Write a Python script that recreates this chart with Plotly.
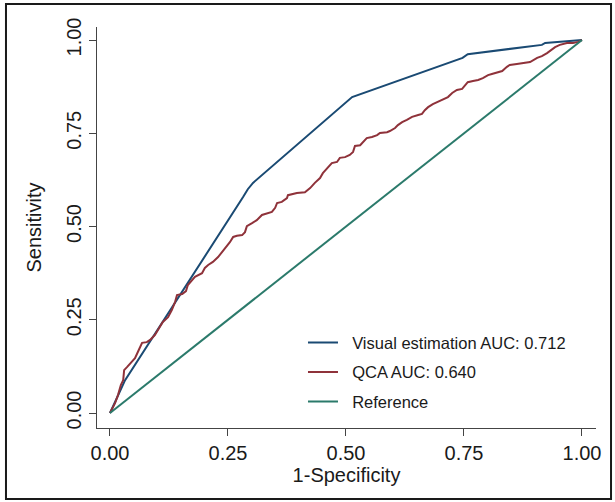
import plotly.graph_objects as go

# ROC curve: visual estimation (1-specificity, sensitivity)
fpr_visual = [0.0, 0.032, 0.282, 0.292, 0.303, 0.513, 0.747, 0.758, 0.915, 0.922, 1.0]
tpr_visual = [0.0, 0.088, 0.579, 0.600, 0.617, 0.847, 0.952, 0.962, 0.987, 0.992, 1.0]

# ROC curve: QCA
fpr_qca = [0.0, 0.011, 0.017, 0.023, 0.028, 0.030, 0.036, 0.047, 0.053, 0.061,
           0.068, 0.078, 0.085, 0.095, 0.102, 0.112, 0.123, 0.131, 0.138, 0.142,
           0.153, 0.161, 0.165, 0.172, 0.180, 0.195, 0.201, 0.208, 0.218, 0.229,
           0.237, 0.244, 0.254, 0.261, 0.269, 0.280, 0.286, 0.290, 0.301, 0.311,
           0.322, 0.333, 0.343, 0.350, 0.354, 0.364, 0.375, 0.377, 0.396, 0.413,
           0.424, 0.434, 0.445, 0.451, 0.460, 0.470, 0.481, 0.487, 0.498, 0.508,
           0.515, 0.519, 0.530, 0.536, 0.544, 0.555, 0.566, 0.572, 0.587, 0.593,
           0.604, 0.610, 0.619, 0.629, 0.640, 0.653, 0.661, 0.667, 0.674, 0.684,
           0.695, 0.706, 0.716, 0.725, 0.735, 0.746, 0.752, 0.758, 0.769, 0.780,
           0.790, 0.801, 0.809, 0.820, 0.831, 0.841, 0.847, 0.862, 0.875, 0.890,
           0.905, 0.915, 0.926, 0.932, 0.943, 0.953, 0.968, 0.981, 0.992, 1.0]
tpr_qca = [0.0, 0.027, 0.048, 0.075, 0.088, 0.115, 0.123, 0.137, 0.147, 0.169,
           0.188, 0.190, 0.196, 0.209, 0.223, 0.244, 0.257, 0.276, 0.298, 0.316,
           0.319, 0.327, 0.343, 0.354, 0.365, 0.375, 0.389, 0.397, 0.405, 0.418,
           0.432, 0.442, 0.458, 0.472, 0.475, 0.477, 0.485, 0.501, 0.509, 0.517,
           0.531, 0.536, 0.539, 0.550, 0.563, 0.566, 0.576, 0.584, 0.590, 0.592,
           0.603, 0.617, 0.630, 0.643, 0.657, 0.670, 0.673, 0.684, 0.686, 0.692,
           0.700, 0.716, 0.718, 0.727, 0.737, 0.740, 0.745, 0.751, 0.753, 0.756,
           0.764, 0.772, 0.780, 0.786, 0.794, 0.799, 0.802, 0.812, 0.820, 0.828,
           0.834, 0.842, 0.847, 0.858, 0.866, 0.869, 0.879, 0.887, 0.890, 0.893,
           0.898, 0.906, 0.909, 0.914, 0.917, 0.928, 0.933, 0.936, 0.938, 0.941,
           0.952, 0.957, 0.965, 0.971, 0.981, 0.987, 0.992, 0.992, 0.995, 1.0]

# Chance (reference) line
fpr_ref = [0.0, 1.0]
tpr_ref = [0.0, 1.0]

series_names = ["Visual estimation AUC: 0.712", "QCA AUC: 0.640", "Reference"]
tick_vals = [0.0, 0.25, 0.5, 0.75, 1.0]
tick_text = ["0.00", "0.25", "0.50", "0.75", "1.00"]

NAVY = "#1a4a73"
MAROON = "#8f323a"
TEAL = "#2b7a6b"
AXIS = "#444444"
FONT = "Liberation Sans, Arial, Helvetica, sans-serif"

fig = go.Figure()
pad = "\u00a0\u00a0"
for i, (xs, ys, name, col) in enumerate([
        (fpr_visual, tpr_visual, series_names[0], NAVY),
        (fpr_qca, tpr_qca, series_names[1], MAROON),
        (fpr_ref, tpr_ref, series_names[2], TEAL)]):
    fig.add_trace(go.Scatter(x=xs, y=ys, mode="lines", name=pad + name,
                             legendgroup=str(i),
                             line=dict(color=col, width=2)))

axis_common = dict(
    showline=True, linecolor=AXIS, linewidth=1.3,
    ticks="outside", ticklen=7, tickwidth=1.3, tickcolor=AXIS,
    showgrid=False, zeroline=False,
    tickvals=tick_vals, ticktext=tick_text,
    tickfont=dict(family=FONT, size=20, color="#1a1a1a"),
    title_font=dict(family=FONT, size=20, color="#1a1a1a"),
    fixedrange=True,
)

fig.update_layout(
    width=615, height=502, autosize=False,
    margin=dict(l=97, r=19, t=27, b=74),
    paper_bgcolor="white", plot_bgcolor="white",
    font=dict(family=FONT, color="#1a1a1a"),
    xaxis=dict(range=[-0.0275, 1.0297], title=dict(text="1-Specificity", standoff=1),
               **axis_common),
    yaxis=dict(range=[-0.0402, 1.0349], tickangle=-90,
               title=dict(text="Sensitivity", standoff=15), **axis_common),
    legend=dict(x=0.4128, y=0.256, xanchor="left", yanchor="top",
                bgcolor="rgba(0,0,0,0)", borderwidth=0,
                font=dict(family=FONT, size=16.5, color="#1a1a1a"),
                traceorder="grouped", tracegroupgap=5, itemwidth=30),
    showlegend=True,
    shapes=[dict(type="rect", xref="paper", yref="paper",
                 x0=-0.1824, x1=1.0301, y0=-0.1771, y1=1.0574,
                 line=dict(color="#1a1a1a", width=2), fillcolor="rgba(0,0,0,0)",
                 layer="below")],
)

fig.write_html("out.html")
